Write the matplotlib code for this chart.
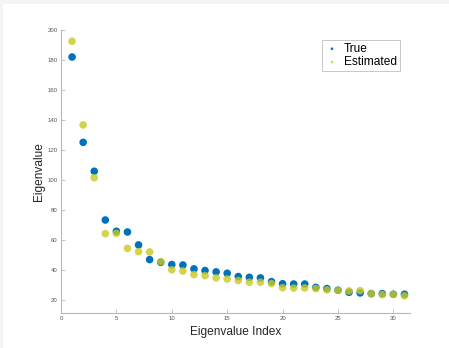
import matplotlib
matplotlib.use("Agg")
import matplotlib.pyplot as plt
import numpy as np
from matplotlib.patches import Rectangle

plt.rcParams["font.family"] = ["Liberation Sans", "DejaVu Sans"]

# eigenvalue index 1..31
index = list(range(1, 32))
true_vals = [182.0, 125.1, 105.8, 73.3, 65.8, 65.3, 56.7, 46.9, 45.1, 43.6,
             43.3, 40.7, 39.6, 38.7, 37.8, 35.6, 35.1, 34.7, 32.2, 30.8,
             30.6, 30.6, 28.4, 27.6, 26.5, 25.1, 24.7, 24.2, 24.2, 23.8, 23.8]
est_vals = [192.5, 136.7, 101.5, 64.2, 64.4, 54.4, 52.2, 52.0, 45.6, 40.1,
            39.3, 36.9, 36.2, 34.7, 34.0, 32.9, 31.8, 31.8, 30.9, 28.1,
            27.9, 28.0, 27.6, 26.7, 26.3, 26.0, 26.2, 24.2, 23.5, 23.7, 22.7]
xticks = [0, 5, 10, 15, 20, 25, 30]
yticks = [20, 40, 60, 80, 100, 120, 140, 160, 180, 200]

blue = "#0072BD"
yellow = "#C9C920"
axis_grey = "#b8b8b8"
tick_grey = "#555555"

fig = plt.figure(figsize=(4.49, 3.48), dpi=100)
fig.patch.set_facecolor("white")

# light grey page frame (screenshot border)
fig.patches.append(Rectangle((0, 1 - 4 / 348), 1, 4 / 348, transform=fig.transFigure,
                             facecolor="#f4f4f4", edgecolor="none", zorder=0))
fig.patches.append(Rectangle((0, 0), 3 / 449, 1, transform=fig.transFigure,
                             facecolor="#f4f4f4", edgecolor="none", zorder=0))

ax = fig.add_axes([61 / 449, 1 - 313 / 348, (410 - 61) / 449, (313 - 30) / 348])

ax.scatter(index, true_vals, s=30, color=blue, edgecolors="none", label="True", zorder=3)
ax.scatter(index, est_vals, s=30, color=yellow, alpha=0.8, edgecolors="none",
           label="Estimated", zorder=4)

ax.set_xlim(0, 31.5)
ax.set_ylim(11.3, 200)
ax.set_xticks(xticks)
ax.set_yticks(yticks)

for side in ("top", "right"):
    ax.spines[side].set_visible(False)
for side in ("left", "bottom"):
    ax.spines[side].set_color(axis_grey)
    ax.spines[side].set_linewidth(0.8)
ax.tick_params(direction="in", length=3, width=0.6, color=axis_grey,
               labelsize=4.3, labelcolor=tick_grey, pad=2.5)

ax.set_xlabel("Eigenvalue Index", fontsize=8.6, color="#262626", labelpad=3)
ax.set_ylabel("Eigenvalue", fontsize=8.6, color="#262626", labelpad=2)

leg = ax.legend(loc="upper right", bbox_to_anchor=(0.971, 0.965), borderaxespad=0,
                fontsize=8.6, markerscale=0.35, handletextpad=0.4, borderpad=0.25,
                labelspacing=0.1, handlelength=1.2, fancybox=False, framealpha=1)
leg.get_frame().set_edgecolor("#c8c8c8")
leg.get_frame().set_linewidth(0.7)

fig.savefig("out.png", dpi=100)
